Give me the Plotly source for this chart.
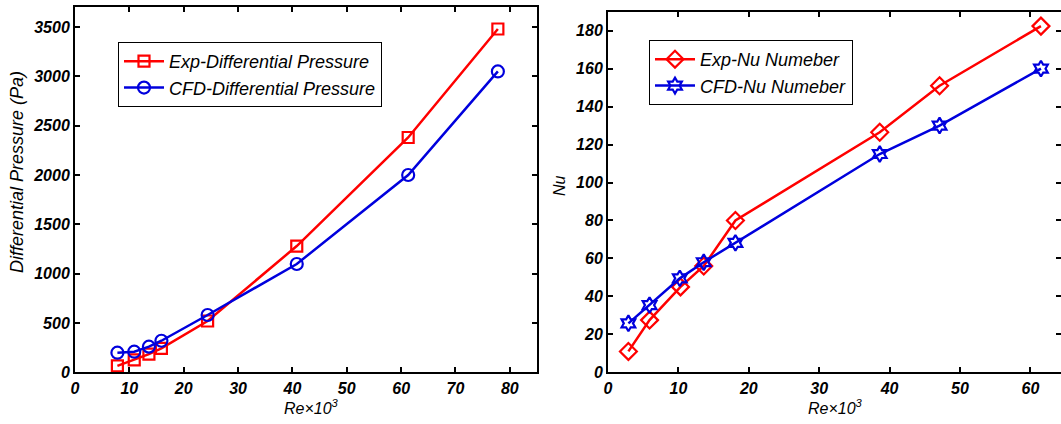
import plotly.graph_objects as go

# ---- data: left panel (differential pressure) ----
re_dp = [7.8, 10.9, 13.6, 15.9, 24.4, 40.8, 61.3, 77.8]
exp_dp = [65, 125, 185, 243, 520, 1280, 2380, 3480]
cfd_dp = [199, 209, 260, 320, 581, 1098, 2000, 3050]

# ---- data: right panel (Nusselt number) ----
re_nu_exp = [2.9, 5.9, 10.3, 13.6, 18.1, 38.6, 47.1, 61.5]
exp_nu = [11, 27.5, 45, 56, 80, 126.5, 151, 182.4]
re_nu_cfd = [2.9, 5.9, 10.2, 13.6, 18.1, 38.6, 47.1, 61.5]
cfd_nu = [25.8, 35.4, 49.5, 58, 68.2, 115, 130, 160]

left_xticks = [0, 10, 20, 30, 40, 50, 60, 70, 80]
left_yticks = [0, 500, 1000, 1500, 2000, 2500, 3000, 3500]
right_xticks = [0, 10, 20, 30, 40, 50, 60]
right_yticks = [0, 20, 40, 60, 80, 100, 120, 140, 160, 180]

W, H = 1061, 424
FONT = "Liberation Sans, Arial, sans-serif"
RED = "#ff0000"
BLUE = "#0000dd"

fig = go.Figure()

fig.add_trace(go.Scatter(x=re_dp, y=exp_dp, mode="lines+markers", name="Exp-Differential Pressure",
                         line=dict(color=RED, width=2.5),
                         marker=dict(symbol="square-open", size=11, color=RED, line=dict(width=2.2, color=RED)),
                         xaxis="x", yaxis="y", legend="legend"))
fig.add_trace(go.Scatter(x=re_dp, y=cfd_dp, mode="lines+markers", name="CFD-Differential Pressure",
                         line=dict(color=BLUE, width=2.5),
                         marker=dict(symbol="circle-open", size=12, color=BLUE, line=dict(width=2.2, color=BLUE)),
                         xaxis="x", yaxis="y", legend="legend"))
fig.add_trace(go.Scatter(x=re_nu_exp, y=exp_nu, mode="lines+markers", name="Exp-Nu Numeber",
                         line=dict(color=RED, width=2.5),
                         marker=dict(symbol="diamond-open", size=13, color=RED, line=dict(width=2.2, color=RED)),
                         xaxis="x2", yaxis="y2", legend="legend2"))
fig.add_trace(go.Scatter(x=re_nu_cfd, y=cfd_nu, mode="lines+markers", name="CFD-Nu Numeber",
                         line=dict(color=BLUE, width=2.5),
                         marker=dict(symbol="hexagram-open", size=12, color=BLUE, line=dict(width=2.2, color=BLUE)),
                         xaxis="x2", yaxis="y2", legend="legend2"))
# helper trace so the right-side tick-only axis is drawn
fig.add_trace(go.Scatter(x=[], y=[], xaxis="x2", yaxis="y3", showlegend=False, hoverinfo="skip"))

tickfont = dict(family=FONT, size=16, color="black", weight="bold", style="italic")
axis_common = dict(showline=True, linecolor="black", linewidth=2, ticks="inside", ticklen=5,
                   tickwidth=1.5, tickcolor="black", showgrid=False, zeroline=False, tickfont=tickfont,
                   automargin=False, tickmode="array")

fig.update_layout(
    template="none",
    width=W, height=H,
    margin=dict(l=0, r=0, t=0, b=0),
    paper_bgcolor="white", plot_bgcolor="white",
    xaxis=dict(domain=[75 / W, 537 / W], range=[0, 85], tickvals=left_xticks,
               mirror="ticks", anchor="y", **axis_common),
    yaxis=dict(domain=[1 - 372.3 / H, 1 - 7.3 / H], range=[0, 3700], tickvals=left_yticks,
               mirror="ticks", anchor="x", **axis_common),
    xaxis2=dict(domain=[608 / W, 1.0], range=[0, 64.35], tickvals=right_xticks,
                mirror="ticks", anchor="y2", **axis_common),
    yaxis2=dict(domain=[1 - 372.3 / H, 1 - 11.7 / H], range=[0, 190], tickvals=right_yticks,
                mirror=False, anchor="x2", **axis_common),
    yaxis3=dict(overlaying="y2", side="right", anchor="x2", range=[0, 190], tickvals=right_yticks,
                showline=False, ticks="inside", ticklen=5, tickwidth=1.5, tickcolor="black",
                showticklabels=False, showgrid=False, zeroline=False, automargin=False),
    legend=dict(x=118 / W, y=1 - 42 / H, xanchor="left", yanchor="top", bgcolor="white",
                bordercolor="black", borderwidth=1, itemwidth=40, tracegroupgap=0,
                font=dict(family=FONT, size=18, color="black", style="italic")),
    legend2=dict(x=649 / W, y=1 - 40 / H, xanchor="left", yanchor="top", bgcolor="white",
                 bordercolor="black", borderwidth=1, itemwidth=40, tracegroupgap=0,
                 font=dict(family=FONT, size=18, color="black", style="italic")),
    showlegend=True,
)

title_font = dict(family=FONT, size=16, color="black", style="italic")
fig.add_annotation(text="Re×10<sup>3</sup>", x=311 / W, y=1 - 407 / H, xref="paper", yref="paper",
                   showarrow=False, xanchor="center", yanchor="middle", font=title_font)
fig.add_annotation(text="Re×10<sup>3</sup>", x=835 / W, y=1 - 407 / H, xref="paper", yref="paper",
                   showarrow=False, xanchor="center", yanchor="middle", font=title_font)
fig.add_annotation(text="Differential Pressure (Pa)", x=17 / W, y=1 - 172 / H, xref="paper",
                   yref="paper", showarrow=False, xanchor="center", yanchor="middle", textangle=-90,
                   font=dict(family=FONT, size=18, color="black", style="italic"))
fig.add_annotation(text="Nu", x=560 / W, y=1 - 186 / H, xref="paper", yref="paper",
                   showarrow=False, xanchor="center", yanchor="middle", textangle=-90, font=title_font)

fig.write_html("out.html", config={"displayModeBar": False},
               post_script="document.body.style.margin='0px';document.body.style.overflow='hidden';")
